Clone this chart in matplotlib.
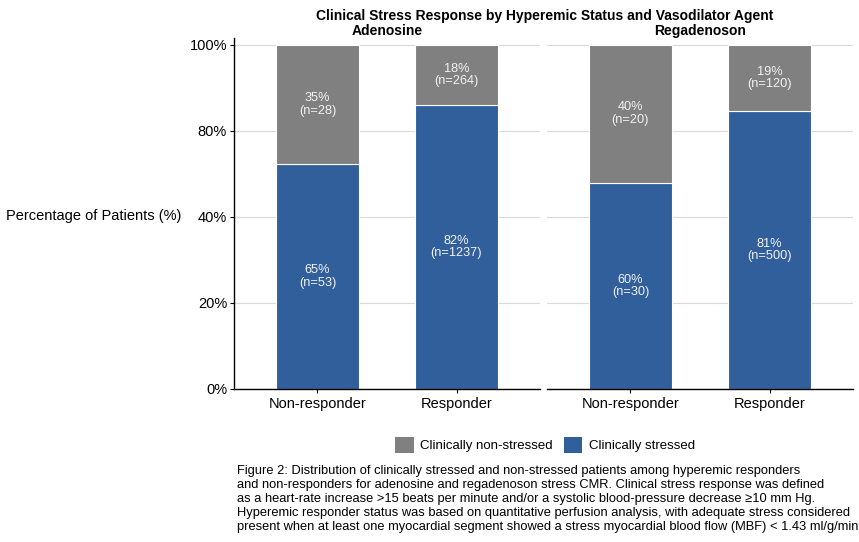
import matplotlib.pyplot as plt
from matplotlib.patches import Patch

plt.rcParams['font.family'] = ['Liberation Sans', 'DejaVu Sans']

# data
agents = ["Adenosine", "Regadenoson"]
status = ["Non-responder", "Responder"]
stressed_n = {"Adenosine": [53, 1237], "Regadenoson": [30, 500]}
nonstressed_n = {"Adenosine": [28, 264], "Regadenoson": [20, 120]}
ytick_pos = [0, 0.25, 0.5, 0.75, 1.0]
ytick_lab = ["0%", "20%", "40%", "80%", "100%"]

c_stressed = "#315F9B"
c_non = "#808080"
W, H = 859, 542

def box(x0, x1, y0, y1):
    # pixel box -> figure fraction
    return [x0 / W, 1 - y1 / H, (x1 - x0) / W, (y1 - y0) / H]

fig = plt.figure(figsize=(W / 100, H / 100), dpi=100)
panels = [(234, 540), (547, 853)]

for i, agent in enumerate(agents):
    x0, x1 = panels[i]
    ax = fig.add_axes(box(x0, x1, 38, 389))
    s = stressed_n[agent]
    ns = nonstressed_n[agent]
    xs = list(range(1, len(status) + 1))
    for j, x in enumerate(xs):
        tot = s[j] + ns[j]
        ps, pn = s[j] / tot, ns[j] / tot
        ax.bar(x, ps, width=0.6, color=c_stressed, edgecolor="white", linewidth=0.8, zorder=2)
        ax.bar(x, pn, bottom=ps, width=0.6, color=c_non, edgecolor="white", linewidth=0.8, zorder=2)
        ax.text(x, ps / 2, f"{round(ps*100):.0f}%\n(n={s[j]})", ha="center", va="center",
                color="#F2F2F2", fontsize=9.2, linespacing=1.05, zorder=3)
        ax.text(x, ps + pn / 2, f"{round(pn*100):.0f}%\n(n={ns[j]})", ha="center", va="center",
                color="#F2F2F2", fontsize=9.2, linespacing=1.05, zorder=3)
    ax.set_xlim(0.4, 2.6)
    ax.set_ylim(0, 1.02)
    ax.set_xticks(xs)
    ax.set_xticklabels(status, fontsize=10.5)
    ax.set_yticks(ytick_pos)
    ax.yaxis.grid(True, color="#DADADA", linewidth=0.8, zorder=0)
    ax.set_axisbelow(True)
    for sp in ["top", "right"]:
        ax.spines[sp].set_visible(False)
    ax.spines["bottom"].set_linewidth(1.0)
    ax.spines["left"].set_linewidth(1.0)
    ax.tick_params(axis="x", length=3, pad=3)
    if i == 0:
        ax.set_yticklabels(ytick_lab, fontsize=10.5)
        ax.tick_params(axis="y", length=3, pad=2)
    else:
        ax.spines["left"].set_visible(False)
        ax.tick_params(axis="y", length=0, labelleft=False)
    ax.set_title(agent, fontsize=10, fontweight="bold", pad=1)

fig.text(545 / W, 1 - 16 / H, "Clinical Stress Response by Hyperemic Status and Vasodilator Agent",
         ha="center", va="center", fontsize=10, fontweight="bold")
fig.text(6 / W, 1 - 216 / H, "Percentage of Patients (%)", ha="left", va="center", fontsize=10.5)

handles = [Patch(facecolor=c_non, label="Clinically non-stressed"),
           Patch(facecolor=c_stressed, label="Clinically stressed")]
fig.legend(handles=handles, loc="center", bbox_to_anchor=(545 / W, 1 - 445 / H), ncol=2,
           frameon=False, fontsize=9.5, handlelength=1.4, handleheight=1.4,
           handletextpad=0.5, columnspacing=0.8)

caption = ("Figure 2: Distribution of clinically stressed and non-stressed patients among hyperemic responders\n"
           "and non-responders for adenosine and regadenoson stress CMR. Clinical stress response was defined\n"
           "as a heart-rate increase >15 beats per minute and/or a systolic blood-pressure decrease \u226510 mm Hg.\n"
           "Hyperemic responder status was based on quantitative perfusion analysis, with adequate stress considered\n"
           "present when at least one myocardial segment showed a stress myocardial blood flow (MBF) < 1.43 ml/g/min")
fig.text(237 / W, 1 - 499 / H, caption, ha="left", va="center", fontsize=9.3, linespacing=1.22)

fig.savefig("out.png", dpi=100)
